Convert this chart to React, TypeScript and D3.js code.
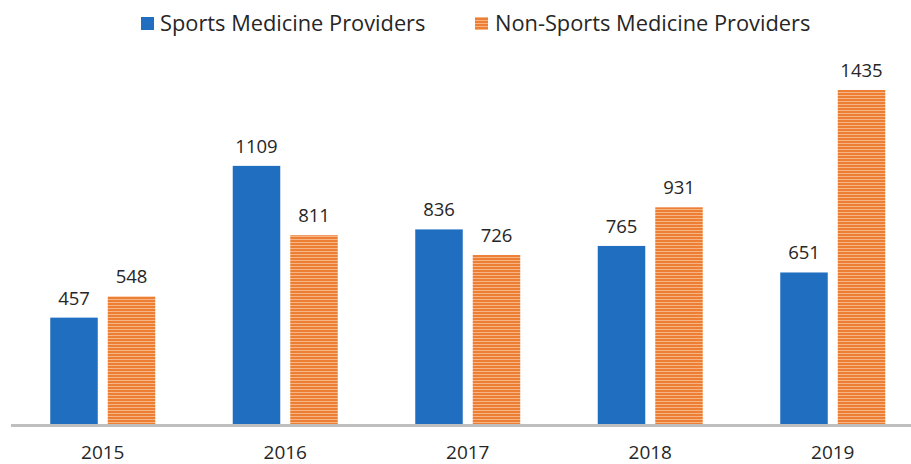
import React from "react";
import * as d3 from "d3";

const years = ["2015", "2016", "2017", "2018", "2019"];
const sportsValues = [457, 1109, 836, 765, 651];
const nonSportsValues = [548, 811, 726, 931, 1435];
const seriesNames = ["Sports Medicine Providers", "Non-Sports Medicine Providers"];

const W = 911;
const H = 464;
const BLUE = "#1F6EBF";
const ORANGE = "#ED7F35";
const FONT = "'Open Sans', sans-serif";

export default function App() {
  const baseY = 424;
  const x = d3.scaleBand().domain(years).range([11.5, 924]).paddingInner(0).paddingOuter(0);
  const y = d3.scaleLinear().domain([0, 1435]).range([baseY, 90]);
  const bw = 47.5;

  return (
    <svg width={W} height={H} style={{ position: "absolute", left: 0, top: 0 }}>
      <defs>
        <pattern id="stripes" width="6" height="3" patternUnits="userSpaceOnUse">
          <rect width="6" height="3" fill={ORANGE} />
          <rect y="2" width="6" height="1" fill="#F7B585" />
        </pattern>
      </defs>
      <rect width={W} height={H} fill="#fff" />
      {/* legend */}
      <rect x={141} y={17} width={13} height={13} fill={BLUE} />
      <text x={160} y={31} fontFamily={FONT} fontSize={21.8} fill="#262626">{seriesNames[0]}</text>
      <rect x={475} y={17} width={13} height={13} fill="url(#stripes)" />
      <text x={495} y={31} fontFamily={FONT} fontSize={21.8} fill="#262626">{seriesNames[1]}</text>

      {years.map((yr, i) => {
        const cx = (x(yr) as number) + x.bandwidth() / 2;
        const sx = cx - 5 - bw;
        const nx = cx + 5;
        const sv = sportsValues[i];
        const nv = nonSportsValues[i];
        return (
          <g key={yr}>
            <rect x={sx} y={y(sv)} width={bw} height={baseY - y(sv)} fill={BLUE} />
            <rect x={nx} y={y(nv)} width={bw} height={baseY - y(nv)} fill="url(#stripes)" />
            <text x={sx + bw / 2} y={y(sv) - 13} textAnchor="middle" fontFamily={FONT} fontSize={18.5} fill="#262626">{sv}</text>
            <text x={nx + bw / 2} y={y(nv) - 13} textAnchor="middle" fontFamily={FONT} fontSize={18.5} fill="#262626">{nv}</text>
            <text x={cx} y={459} textAnchor="middle" fontFamily={FONT} fontSize={19} fill="#262626">{yr}</text>
          </g>
        );
      })}
      <line x1={11} x2={W} y1={baseY + 1.5} y2={baseY + 1.5} stroke="#BFBFBF" strokeWidth={3} />
    </svg>
  );
}
